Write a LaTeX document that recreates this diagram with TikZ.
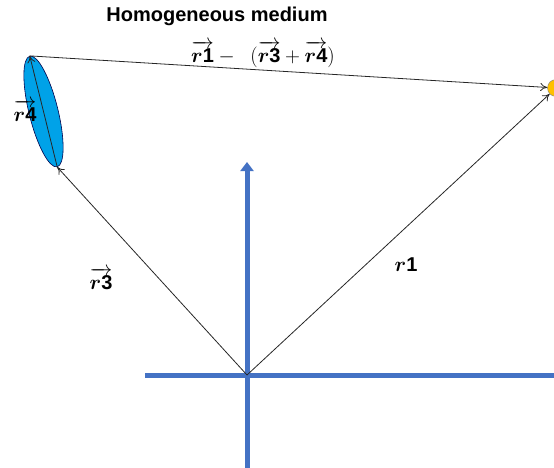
\documentclass[tikz,border=0pt]{standalone}
\usepackage{amsmath,bm}
\usepackage{fontspec}
\setmainfont{Liberation Sans}
\usetikzlibrary{arrows.meta,shapes.geometric}
\definecolor{axisblue}{RGB}{68,114,196}
\definecolor{ellblue}{RGB}{0,162,232}
\definecolor{sunorange}{RGB}{255,192,0}
\newcommand{\vr}[1]{\overrightarrow{\bm{r}\mathbf{#1}}}
\tikzset{
  axisline/.style={line width=5pt, color=axisblue},
  vecline/.style={line width=0.8pt, color=black!85, -{To[length=7pt,width=8pt]}},
  lbl/.style={font=\fontsize{20}{22}\selectfont, inner sep=0pt}
}
\begin{document}
\begin{tikzpicture}[x=1pt,y=-1pt]
\useasboundingbox (0,0) rectangle (554,468);
% axes
\coordinate (o) at (247,375);
\coordinate (xl) at (145,375);
\coordinate (xr) at (554,375);
\coordinate (yb) at (247,468);
\coordinate (yt) at (247,162);
\draw[axisline] (xl) -- (xr);
\draw[axisline, -{Triangle[width=13pt,length=9pt]}] (yb) -- (yt);
% ellipse
\node[ellipse, draw=black!70!blue, line width=0.6pt, fill=ellblue, minimum width=29pt, minimum height=114pt, inner sep=0pt, rotate=13.9] (ell) at (43.5,111.5) {};
% orange point
\node[circle, draw=gray, fill=sunorange, minimum size=17pt, inner sep=0pt] (sun) at (556,88) {};
% vectors
\draw[vecline] (o) -- (ell.south);
\draw[vecline] (ell.south) -- (ell.north);
\draw[vecline] (o) -- (sun);
\draw[vecline] (ell.north) -- (sun);
% labels
\node[font=\fontsize{20}{22}\selectfont\bfseries, inner sep=0pt] (title) at (217,16) {Homogeneous medium};
\node[lbl] (l4) at (25,111) {$\vr{4}$};
\node[lbl] (l3) at (101,279) {$\vr{3}$};
\node[lbl] (l1) at (406,265) {$\bm{r}\mathbf{1}$};
\node[lbl] (l14) at (263,54) {$\vr{1}-\ \ (\vr{3}+\vr{4})$};
\end{tikzpicture}
\end{document}
